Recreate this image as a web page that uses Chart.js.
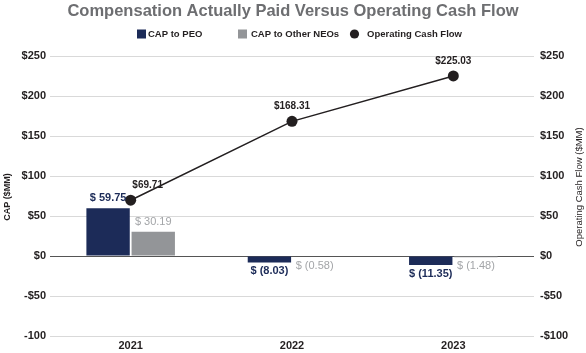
<!DOCTYPE html>
<html>
<head>
<meta charset="utf-8">
<script src="https://cdn.jsdelivr.net/npm/chart.js@4"></script>
<style>
html,body{margin:0;padding:0;background:#fff;}
#wrap{width:586px;height:353px;position:relative;}
</style>
</head>
<body>
<div id="wrap"><canvas id="c" width="586" height="353"></canvas></div>
<script>
const categories = ['2021', '2022', '2023'];
const capPeo = [59.75, -8.03, -11.35];
const capOther = [30.19, -0.58, -1.48];
const opCashFlow = [69.71, 168.31, 225.03];
const leftTickLabels = {250:'$250',200:'$200',150:'$150',100:'$100',50:'$50',0:'$0','-50':'-$50','-100':'-100'};
const rightTickLabels = {250:'$250',200:'$200',150:'$150',100:'$100',50:'$50',0:'$0','-50':'-$50','-100':'-$100'};
const chartTitle = 'Compensation Actually Paid Versus Operating Cash Flow';
const leftAxisTitle = 'CAP ($MM)';
const rightAxisTitle = 'Operating Cash Flow ($MM)';

const NAVY = '#1c2b58';
const GRAY = '#939598';
const DARK = '#231f20';
const FONT = "'Liberation Sans', Arial, sans-serif";

function fmtBar(v){
  return v < 0 ? '$ (' + Math.abs(v).toFixed(2) + ')' : '$ ' + v.toFixed(2);
}

const labelPlugin = {
  id: 'labels',
  afterDatasetsDraw(chart){
    const ctx = chart.ctx;
    ctx.save();
    ctx.textAlign = 'center';
    ctx.textBaseline = 'middle';
    [[0, NAVY, 'bold'], [1, '#a3a5a8', 'normal']].forEach(([di, color, w]) => {
      const meta = chart.getDatasetMeta(di);
      const data = chart.data.datasets[di].data;
      ctx.fillStyle = color;
      ctx.font = w + ' 11px ' + FONT;
      meta.data.forEach((el, i) => {
        const v = data[i];
        const y = v >= 0 ? Math.min(el.y, el.base) - 10 : Math.max(el.y, el.base) + 9;
        ctx.fillText(fmtBar(v), el.x, y);
      });
    });
    const meta = chart.getDatasetMeta(2);
    ctx.fillStyle = DARK;
    ctx.font = 'bold 10px ' + FONT;
    meta.data.forEach((el, i) => {
      const v = opCashFlow[i];
      const dx = i === 0 ? 17 : 0;
      ctx.fillText('$' + v.toFixed(2), el.x + dx, el.y - 15);
    });
    ctx.restore();
  }
};

const decorPlugin = {
  id: 'decor',
  afterDraw(chart){
    const ctx = chart.ctx;
    ctx.save();
    ctx.textBaseline = 'middle';
    ctx.fillStyle = '#6d6e71';
    ctx.textAlign = 'center';
    ctx.font = 'bold 16.5px ' + FONT;
    ctx.fillText(chartTitle, 293, 11);
    const ly = 34;
    ctx.font = 'bold 9.5px ' + FONT;
    ctx.textAlign = 'left';
    const ds = chart.data.datasets;
    ctx.fillStyle = ds[0].backgroundColor; ctx.fillRect(137, ly-4.5, 9, 9);
    ctx.fillStyle = DARK; ctx.fillText(ds[0].label, 148, ly);
    ctx.fillStyle = ds[1].backgroundColor; ctx.fillRect(238, ly-4.5, 9, 9);
    ctx.fillStyle = DARK; ctx.fillText(ds[1].label, 251, ly);
    ctx.fillStyle = ds[2].backgroundColor;
    ctx.beginPath(); ctx.arc(354.5, ly, 4.6, 0, Math.PI*2); ctx.fill();
    ctx.fillStyle = DARK; ctx.fillText(ds[2].label, 367, ly);
    ctx.restore();
    ctx.save();
    ctx.fillStyle = DARK;
    ctx.textAlign = 'center';
    ctx.textBaseline = 'middle';
    ctx.font = 'bold 9px ' + FONT;
    ctx.translate(8, 197);
    ctx.rotate(-Math.PI/2);
    ctx.fillText(leftAxisTitle, 0, 0);
    ctx.restore();
    ctx.save();
    ctx.fillStyle = DARK;
    ctx.textAlign = 'center';
    ctx.textBaseline = 'middle';
    ctx.font = '9.5px ' + FONT;
    ctx.translate(579, 187);
    ctx.rotate(-Math.PI/2);
    ctx.fillText(rightAxisTitle, 0, 0);
    ctx.restore();
  }
};

new Chart(document.getElementById('c'), {
  data: {
    labels: categories,
    datasets: [
      {type:'bar', label:'CAP to PEO', data: capPeo, backgroundColor: NAVY, borderWidth:0, yAxisID:'y', order:2,
       barPercentage:0.96, categoryPercentage:0.56},
      {type:'bar', label:'CAP to Other NEOs', data: capOther, backgroundColor: GRAY, borderWidth:0, yAxisID:'y', order:2,
       barPercentage:0.96, categoryPercentage:0.56},
      {type:'line', label:'Operating Cash Flow', data: opCashFlow, borderColor:DARK, backgroundColor:DARK, borderWidth:1.5,
       pointRadius:5.5, pointBackgroundColor:DARK, pointBorderWidth:0, yAxisID:'y1', order:1, tension:0}
    ]
  },
  options: {
    responsive: false,
    animation: false,
    devicePixelRatio: 1,
    layout: {padding: {left:0, right:0, top:56, bottom:0}},
    plugins: {
      title: {display:false},
      legend: {display:false},
      tooltip:{enabled:false}
    },
    scales: {
      x: {
        grid:{display:false, drawTicks:false},
        border:{display:false},
        ticks:{color:DARK, font:{family:FONT, size:11, weight:'bold'}, padding:3},
        afterFit(s){ s.height = 17; }
      },
      y: {
        position:'left', min:-100, max:250,
        ticks:{stepSize:50, color:DARK, padding:4, font:{family:FONT, size:11, weight:'bold'},
          callback:(v)=>leftTickLabels[v]},
        grid:{color:(c)=>c.tick.value===0?'#555555':'#d9d9d9', lineWidth:1, drawTicks:false},
        border:{display:false},
        afterFit(s){ s.width = 50; }
      },
      y1: {
        position:'right', min:-100, max:250,
        ticks:{stepSize:50, color:DARK, padding:6, font:{family:FONT, size:11, weight:'bold'},
          callback:(v)=>rightTickLabels[v]},
        grid:{display:false, drawTicks:false},
        border:{display:false},
        afterFit(s){ s.width = 52; }
      }
    }
  },
  plugins:[labelPlugin, decorPlugin]
});
</script>
</body>
</html>
